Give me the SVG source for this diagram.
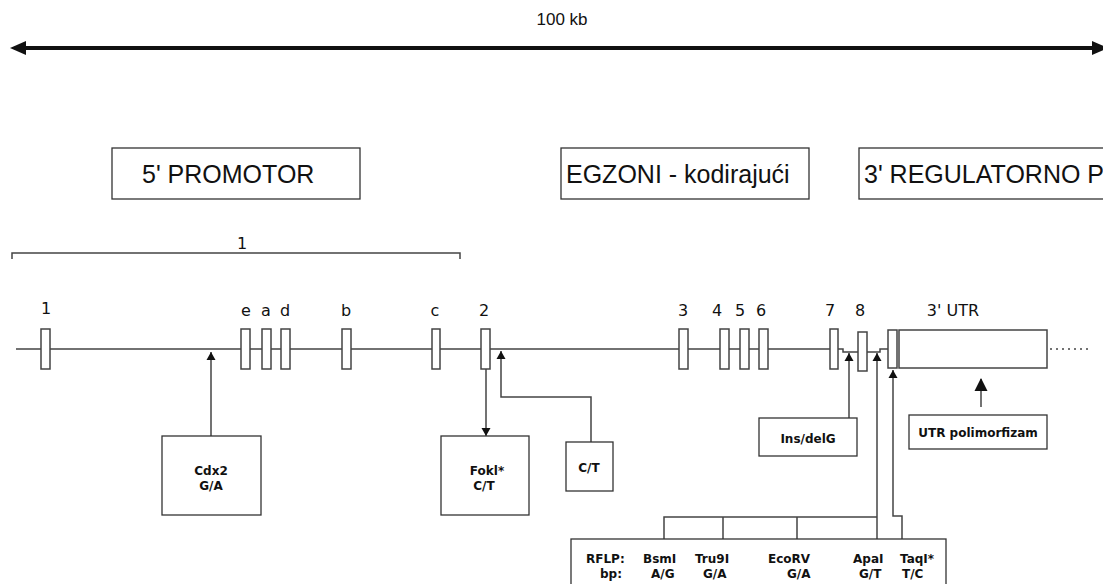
<svg xmlns="http://www.w3.org/2000/svg" width="1103" height="584" viewBox="0 0 1103 584">
<defs>
<marker id="ah" markerUnits="userSpaceOnUse" markerWidth="9" markerHeight="10" refX="8" refY="5" orient="auto"><path d="M0,0.5 L8,5 L0,9.5 z" fill="#111"/></marker>
<marker id="ahb" markerUnits="userSpaceOnUse" markerWidth="14" markerHeight="14" refX="12" refY="7" orient="auto"><path d="M0,0.5 L13,7 L0,13.5 z" fill="#111"/></marker>
</defs>
<style>
.box{fill:#fff;stroke:#333;stroke-width:1.3}
.exon{fill:#fff;stroke:#444;stroke-width:1.5}
.ln{fill:none;stroke:#444;stroke-width:1.5}
.con{fill:none;stroke:#444;stroke-width:1.5}
.big{font-family:"Liberation Sans",Arial,sans-serif;font-size:25px;fill:#111}
.lab{font-family:"DejaVu Sans",Verdana,sans-serif;font-size:16px;fill:#111;text-anchor:middle}
.b{font-family:"DejaVu Sans",Verdana,sans-serif;font-size:12px;font-weight:bold;fill:#111}
.c{text-anchor:middle}
</style>

<g id="scale">
<text x="562" y="25" font-family="'Liberation Sans Narrow','Liberation Sans',sans-serif" font-size="17" text-anchor="middle" fill="#111">100 kb</text>
<line x1="22" y1="48" x2="1094" y2="48" stroke="#111" stroke-width="4"/>
<polygon points="10,48 26,41 26,55" fill="#111"/>
<polygon points="1108,48 1092,41 1092,55" fill="#111"/>
</g>

<g id="promotor"><rect class="box" x="112" y="148" width="248" height="51"/><text class="big" x="142" y="183">5' PROMOTOR</text></g>
<g id="egzoni"><rect class="box" x="561" y="148" width="248" height="51"/><text class="big" x="566" y="183">EGZONI - kodirajući</text></g>
<g id="regulatorno"><rect class="box" x="859" y="148" width="260" height="51"/><text class="big" x="864" y="183">3' REGULATORNO P</text></g>

<g id="bracket1">
<path class="ln" d="M12,259 V253 H460 V259" stroke-width="2"/>
<text class="lab" x="242" y="249">1</text>
</g>

<g id="connectors">
<path class="ln" d="M16,349 H843 V352 H880 V349 H888"/>
<line x1="1050" y1="349" x2="1092" y2="349" stroke="#444" stroke-width="1.3" stroke-dasharray="2,4"/>
<path class="con" d="M211,436 V352" marker-end="url(#ah)"/>
<path class="con" d="M486,369 V436" marker-end="url(#ah)"/>
<path class="con" d="M591,442 V397 H501 V351" marker-end="url(#ah)"/>
<path class="con" d="M849,418 V353" marker-end="url(#ah)"/>
<path class="con" d="M877,539 V353" marker-end="url(#ah)"/>
<path class="con" d="M902,539 V516 H893 V370" marker-end="url(#ah)"/>
<path class="con" d="M981,407 V379" stroke="#111" stroke-width="3" marker-end="url(#ahb)"/>
<path class="con" d="M664,539 V517 H877 M723,517 V539 M797,517 V539"/>
</g>

<g id="exons">
<rect class="exon" x="41" y="329" width="9" height="40"/>
<rect class="exon" x="241" y="329" width="9" height="40"/>
<rect class="exon" x="262" y="329" width="9" height="40"/>
<rect class="exon" x="281" y="329" width="9" height="40"/>
<rect class="exon" x="342" y="329" width="9" height="40"/>
<rect class="exon" x="432" y="329" width="8" height="40"/>
<rect class="exon" x="481" y="329" width="9" height="40"/>
<rect class="exon" x="679" y="329" width="9" height="40"/>
<rect class="exon" x="720" y="329" width="9" height="40"/>
<rect class="exon" x="740" y="329" width="9" height="40"/>
<rect class="exon" x="759" y="329" width="9" height="40"/>
<rect class="exon" x="830" y="329" width="8" height="40"/>
<rect class="exon" x="858" y="332" width="9" height="39"/>
<rect class="exon" x="888" y="330" width="9" height="38"/>
<rect class="exon" x="899" y="330" width="148" height="38"/>
<text class="lab" x="46" y="314">1</text>
<text class="lab" x="246" y="316">e</text>
<text class="lab" x="266" y="316">a</text>
<text class="lab" x="285" y="316">d</text>
<text class="lab" x="346" y="316">b</text>
<text class="lab" x="435" y="316">c</text>
<text class="lab" x="484" y="316">2</text>
<text class="lab" x="683" y="316">3</text>
<text class="lab" x="717" y="316">4</text>
<text class="lab" x="740" y="316">5</text>
<text class="lab" x="761" y="316">6</text>
<text class="lab" x="830" y="316">7</text>
<text class="lab" x="860" y="316">8</text>
<text class="lab" x="953" y="316">3' UTR</text>
</g>

<g id="cdx2"><rect class="box" x="162" y="436" width="99" height="79"/><text class="b c" x="211" y="475">Cdx2</text><text class="b c" x="211" y="490">G/A</text></g>
<g id="fokl"><rect class="box" x="441" y="436" width="88" height="79"/><text class="b c" x="487" y="475">Fokl*</text><text class="b c" x="484" y="490">C/T</text></g>
<g id="ct"><rect class="box" x="566" y="442" width="47" height="49"/><text class="b c" x="589" y="472">C/T</text></g>
<g id="insdel"><rect class="box" x="759" y="418" width="98" height="38"/><text class="b c" x="808" y="443">Ins/delG</text></g>
<g id="utrpoly"><rect class="box" x="909" y="415" width="138" height="34"/><text class="b c" x="978" y="437">UTR polimorfizam</text></g>

<g id="rflp">
<rect class="box" x="571" y="539" width="375" height="60"/>
<text class="b" x="586" y="563">RFLP:</text>
<text class="b" x="600" y="578">bp:</text>
<text class="b" x="643" y="563">BsmI</text><text class="b" x="651" y="578">A/G</text>
<text class="b" x="695" y="563">Tru9I</text><text class="b" x="703" y="578">G/A</text>
<text class="b" x="768" y="563">EcoRV</text><text class="b" x="787" y="578">G/A</text>
<text class="b" x="853" y="563">ApaI</text><text class="b" x="859" y="578">G/T</text>
<text class="b" x="900" y="563">TaqI*</text><text class="b" x="902" y="578">T/C</text>
</g>
</svg>
